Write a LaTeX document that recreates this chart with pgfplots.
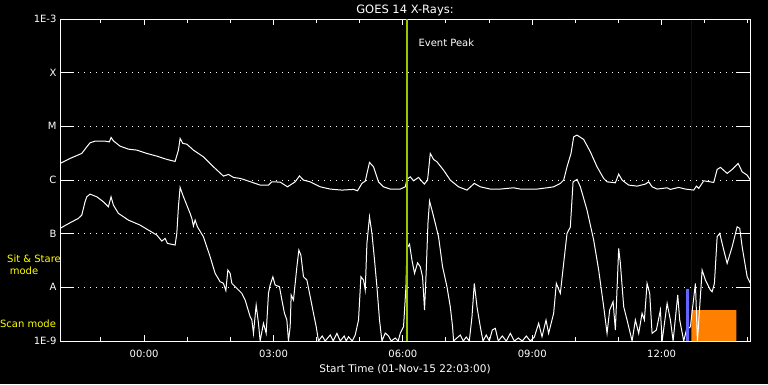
\documentclass[border=0pt]{standalone}
\usepackage{pgfplots}
\pgfplotsset{compat=1.18}
\usepackage{fontspec}
\setmainfont{DejaVu Sans}
\definecolor{evgreen}{RGB}{150,200,0}
\definecolor{scanor}{RGB}{255,128,0}
\definecolor{bluebar}{RGB}{100,100,255}
\definecolor{yel}{RGB}{255,255,0}
\begin{document}
\begin{tikzpicture}[x=1pt,y=1pt]
\fill[black] (0,0) rectangle (768,384);
\path[use as bounding box] (0,0) rectangle (768,384);
\begin{axis}[
  at={(60pt,43pt)}, anchor=south west,
  scale only axis, width=690pt, height=322pt,
  xmin=-1.95, xmax=14.05, ymin=-9, ymax=-3,
  axis line style={white, line width=1pt},
  xtick={0,3,6,9,12},
  xticklabels={00:00,03:00,06:00,09:00,12:00},
  minor xtick={-1,1,2,4,5,7,8,10,11,13,14},
  ytick={-9,-8,-7,-6,-5,-4,-3},
  yticklabels={1E-9,A,B,C,M,X,1E-3},
  tick align=inside,
  major tick length=6pt, minor tick length=4pt,
  xtick style={white, line width=1pt},
  ytick style={draw=none},
  ymajorgrids=true,
  grid style={white, line width=1pt, dash pattern=on 1pt off 5pt},
  ticklabel style={text=white, font=\fontsize{10}{12}\selectfont},
  xticklabel style={yshift=-6pt},
  every axis title/.style={at={(0.5,1)}, anchor=center, yshift=9pt, text=white, font=\fontsize{11.5}{13}\selectfont},
  title={GOES 14 X-Rays:},
  every axis x label/.style={at={(0.5,0)}, anchor=center, yshift=-28pt, text=white, font=\fontsize{10.5}{12}\selectfont},
  xlabel={Start Time (01-Nov-15 22:03:00)},
  clip=true,
]
% scan mode block
\addplot[fill=scanor, draw=none] coordinates {(12.69,-9) (13.735,-9) (13.735,-8.423) (12.69,-8.423)} \closedcycle;
% long channel
\addplot[white, line width=1pt, mark=none] coordinates {
(-1.949,-5.691) (-1.717,-5.598) (-1.445,-5.505) (-1.329,-5.382) (-1.253,-5.307) (-1.137,-5.276) (-0.905,-5.276) (-0.805,-5.289) (-0.766,-5.207) (-0.712,-5.270) (-0.557,-5.369) (-0.364,-5.425) (-0.169,-5.443) (0.063,-5.505) (0.295,-5.555) (0.527,-5.616) (0.719,-5.654) (0.796,-5.443) (0.835,-5.225) (0.898,-5.318) (0.991,-5.332) (1.144,-5.443) (1.376,-5.568) (1.608,-5.754) (1.840,-5.927) (1.956,-5.896) (2.072,-5.952) (2.227,-5.970) (2.304,-5.989) (2.536,-6.052) (2.691,-6.095) (2.884,-6.095) (2.963,-6.034) (3.156,-6.039) (3.325,-6.127) (3.503,-6.034) (3.603,-5.924) (3.696,-6.002) (3.852,-6.034) (4.084,-6.127) (4.316,-6.169) (4.587,-6.188) (4.856,-6.175) (4.949,-6.201) (5.051,-6.063) (5.128,-6.020) (5.227,-5.672) (5.320,-5.754) (5.436,-6.034) (5.552,-6.127) (5.708,-6.169) (5.940,-6.169) (6.056,-6.127) (6.095,-5.989) (6.172,-5.940) (6.248,-6.015) (6.364,-5.952) (6.497,-6.076) (6.573,-6.002) (6.636,-5.505) (6.712,-5.616) (6.791,-5.661) (6.944,-5.816) (7.100,-6.002) (7.292,-6.127) (7.487,-6.188) (7.657,-6.063) (7.796,-6.127) (8.028,-6.169) (8.260,-6.169) (8.569,-6.145) (8.724,-6.169) (9.111,-6.169) (9.343,-6.145) (9.497,-6.127) (9.652,-6.063) (9.729,-6.002) (9.807,-5.754) (9.900,-5.505) (9.961,-5.196) (10.039,-5.164) (10.193,-5.244) (10.348,-5.475) (10.503,-5.754) (10.657,-5.970) (10.735,-6.034) (10.928,-6.052) (11.005,-5.890) (11.084,-6.002) (11.237,-6.095) (11.431,-6.114) (11.624,-6.076) (11.701,-6.034) (11.779,-6.127) (11.896,-6.169) (12.128,-6.145) (12.204,-6.175) (12.397,-6.138) (12.552,-6.169) (12.745,-6.188) (12.807,-6.114) (12.861,-6.156) (12.977,-6.015) (13.209,-6.045) (13.288,-5.803) (13.364,-5.765) (13.520,-5.877) (13.636,-5.803) (13.775,-5.691) (13.868,-5.847) (13.984,-5.909) (14.060,-6.002)
};
% short channel
\addplot[white, line width=1pt, mark=none] coordinates {
(-1.949,-6.901) (-1.717,-6.797) (-1.524,-6.715) (-1.445,-6.654) (-1.369,-6.406) (-1.329,-6.313) (-1.253,-6.263) (-1.097,-6.313) (-0.944,-6.406) (-0.828,-6.499) (-0.766,-6.313) (-0.712,-6.467) (-0.596,-6.622) (-0.364,-6.747) (-0.093,-6.840) (0.100,-6.933) (0.295,-7.026) (0.411,-7.138) (0.487,-7.088) (0.541,-7.181) (0.719,-7.212) (0.759,-6.994) (0.796,-6.499) (0.835,-6.138) (0.898,-6.281) (0.974,-6.436) (1.067,-6.622) (1.107,-6.715) (1.144,-6.858) (1.183,-6.747) (1.237,-6.872) (1.376,-7.058) (1.531,-7.430) (1.647,-7.739) (1.763,-7.896) (1.840,-7.926) (1.896,-8.063) (1.942,-7.678) (1.995,-7.739) (2.035,-7.926) (2.151,-8.019) (2.267,-8.112) (2.343,-8.236) (2.459,-8.547) (2.499,-8.609) (2.536,-8.857) (2.599,-8.330) (2.652,-8.670) (2.691,-9) (2.768,-8.670) (2.831,-8.857) (2.884,-8.112) (2.923,-7.957) (2.986,-7.803) (3.039,-7.957) (3.139,-7.989) (3.195,-8.236) (3.255,-8.484) (3.311,-8.609) (3.348,-9) (3.387,-8.734) (3.411,-8.143) (3.464,-8.236) (3.543,-7.616) (3.589,-7.305) (3.636,-7.399) (3.696,-7.803) (3.775,-7.864) (3.852,-8.175) (3.928,-8.484) (3.991,-8.734) (4.044,-9) (4.130,-8.907) (4.200,-9) (4.316,-8.888) (4.385,-9) (4.471,-8.857) (4.548,-9) (4.640,-8.907) (4.687,-9) (4.740,-8.920) (4.826,-9) (4.896,-8.888) (4.972,-8.609) (5.028,-7.803) (5.088,-7.864) (5.128,-8.050) (5.167,-7.181) (5.227,-6.685) (5.283,-6.994) (5.336,-7.430) (5.399,-7.989) (5.459,-8.609) (5.515,-9) (5.592,-8.851) (5.668,-8.907) (5.731,-9) (5.824,-8.944) (5.893,-9) (5.940,-8.857) (6.016,-8.734) (6.072,-7.989) (6.095,-7.274) (6.155,-7.194) (6.211,-7.492) (6.271,-7.739) (6.341,-7.542) (6.404,-7.616) (6.457,-7.803) (6.503,-8.423) (6.543,-7.678) (6.582,-6.808) (6.619,-6.393) (6.675,-6.561) (6.752,-6.808) (6.828,-7.058) (6.921,-7.616) (7.023,-7.989) (7.100,-8.361) (7.153,-8.734) (7.176,-9) (7.332,-8.888) (7.401,-9) (7.471,-8.926) (7.541,-9) (7.603,-8.547) (7.657,-7.926) (7.719,-8.361) (7.796,-8.734) (7.858,-9) (7.935,-8.888) (8.005,-9) (8.074,-8.795) (8.144,-8.764) (8.213,-9) (8.306,-8.907) (8.399,-9) (8.492,-8.857) (8.585,-9) (8.678,-8.944) (8.770,-9) (8.863,-8.907) (8.956,-9) (9.049,-8.926) (9.149,-8.670) (9.227,-8.920) (9.320,-8.609) (9.380,-8.857) (9.497,-8.484) (9.559,-7.926) (9.652,-8.112) (9.729,-7.553) (9.807,-6.994) (9.884,-6.877) (9.947,-6.034) (10.039,-5.989) (10.116,-6.127) (10.271,-6.561) (10.425,-7.119) (10.541,-7.678) (10.657,-8.361) (10.735,-8.857) (10.796,-8.423) (10.875,-8.268) (10.928,-8.795) (11.005,-7.274) (11.044,-7.553) (11.121,-8.361) (11.199,-8.609) (11.316,-9) (11.392,-8.609) (11.469,-8.857) (11.547,-8.484) (11.601,-8.609) (11.663,-7.926) (11.724,-8.112) (11.779,-8.857) (11.879,-8.795) (11.972,-8.423) (12.012,-9) (12.128,-8.298) (12.204,-8.609) (12.267,-9) (12.374,-8.143) (12.420,-8.609) (12.513,-9) (12.575,-8.795) (12.668,-8.734) (12.784,-7.926) (12.831,-9) (12.940,-7.678) (13.016,-7.864) (13.132,-8.050) (13.172,-8.082) (13.225,-7.926) (13.288,-7.058) (13.348,-6.994) (13.441,-7.305) (13.520,-7.553) (13.636,-7.244) (13.752,-6.872) (13.812,-6.901) (13.868,-7.244) (13.984,-7.803) (14.060,-7.926)
};
% sit & stare marker
\addplot[bluebar, line width=3pt, mark=none] coordinates {(12.605,-9) (12.605,-8.03)};
% event peak
\addplot[evgreen, line width=2pt, mark=none] coordinates {(6.102,-9) (6.102,-3)};
\node[anchor=west, inner sep=0pt, text=white, font=\fontsize{10}{12}\selectfont] at (axis cs:6.36,-3.45) {Event Peak};
% y ticks (long, both sides)
\pgfplotsinvokeforeach{-8,-7,-6,-5,-4}{
  \draw[white, line width=1pt] (axis cs:-1.95,#1) -- ++(14pt,0pt);
  \draw[white, line width=1pt] (axis cs:14.05,#1) -- ++(-14pt,0pt);
}
\end{axis}
\node[text=yel, inner sep=0pt, font=\fontsize{10}{12}\selectfont] at (34,125) {Sit \& Stare};
\node[text=yel, inner sep=0pt, font=\fontsize{10}{12}\selectfont] at (24,113) {mode};
\node[text=yel, inner sep=0pt, font=\fontsize{10}{12}\selectfont] at (28,60) {Scan mode};
\end{tikzpicture}
\end{document}
